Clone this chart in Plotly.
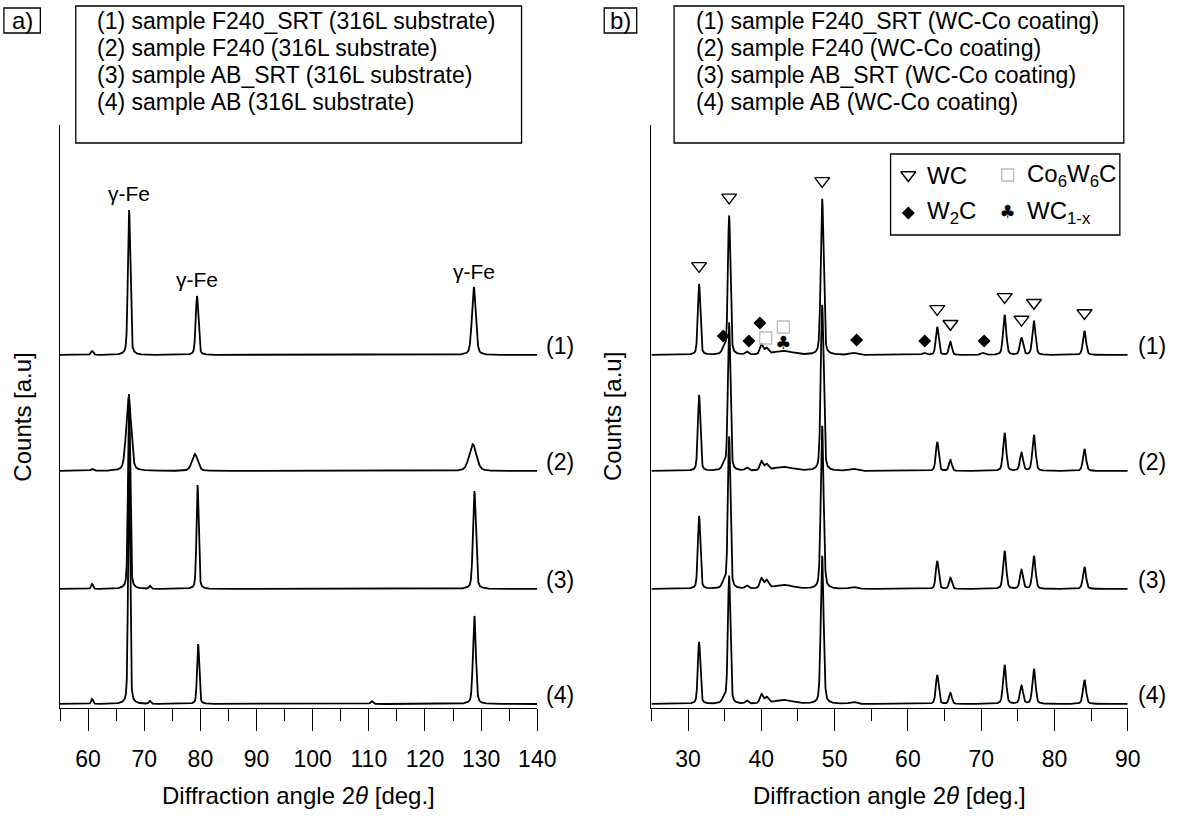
import numpy as np
import plotly.graph_objects as go

# ---------------- data ----------------
sample_tags = ["(1)", "(2)", "(3)", "(4)"]
legend_a = ["(1) sample F240_SRT (316L substrate)",
            "(2) sample F240 (316L substrate)",
            "(3) sample AB_SRT (316L substrate)",
            "(4) sample AB (316L substrate)"]
legend_b = ["(1) sample F240_SRT (WC-Co coating)",
            "(2) sample F240 (WC-Co coating)",
            "(3) sample AB_SRT (WC-Co coating)",
            "(4) sample AB (WC-Co coating)"]

# Panel a (316L substrate): peak position [deg], height [a.u.], FWHM [deg]
a1_pos = [60.7, 67.3, 79.4, 128.7]
a1_hgt = [4, 145, 59, 68]
a1_wid = [0.5, 0.5, 0.55, 0.8]
a2_pos = [60.7, 67.2, 79.0, 128.5]
a2_hgt = [2, 74, 17, 27]
a2_wid = [0.6, 1.0, 1.2, 1.5]
a3_pos = [60.7, 67.3, 71.0, 79.5, 128.8]
a3_hgt = [5, 195, 3, 104, 98]
a3_wid = [0.4, 0.45, 0.4, 0.45, 0.6]
a4_pos = [60.7, 67.3, 71.0, 79.6, 110.5, 128.8]
a4_hgt = [5, 250, 3, 60, 3, 88]
a4_wid = [0.4, 0.4, 0.4, 0.45, 0.5, 0.6]
gamma_fe_pos = [67.3, 79.4, 128.7]

# Panel b (WC-Co coating)
b1_pos = [31.5, 34.9, 35.6, 38.0, 40.0, 40.7, 43.0, 48.3, 52.5, 62.2, 64.0, 65.8, 70.2, 73.2, 75.5, 77.2, 84.1]
b1_hgt = [71, 6, 139, 3, 10, 6, 4, 156, 2, 2, 28, 13, 2, 40, 17, 34, 24]
b1_wid = [0.4, 0.6, 0.4, 0.5, 0.5, 0.6, 3.0, 0.45, 1.0, 0.6, 0.45, 0.45, 0.6, 0.5, 0.5, 0.5, 0.5]
b2_pos = [31.5, 34.9, 35.6, 38.0, 40.0, 40.7, 43.0, 48.3, 52.5, 64.0, 65.8, 73.2, 75.5, 77.2, 84.1]
b2_hgt = [76, 6, 148, 3, 9, 6, 4, 166, 2, 29, 11, 38, 18, 36, 22]
b2_wid = [0.4, 0.6, 0.4, 0.5, 0.5, 0.6, 3.0, 0.45, 1.0, 0.45, 0.45, 0.5, 0.5, 0.5, 0.5]
b3_pos = [31.5, 34.9, 35.6, 38.0, 40.0, 40.7, 43.0, 48.3, 52.5, 64.0, 65.8, 73.2, 75.5, 77.2, 84.1]
b3_hgt = [73, 6, 152, 3, 10, 8, 4, 163, 2, 28, 11, 38, 19, 33, 22]
b3_wid = [0.4, 0.6, 0.4, 0.5, 0.5, 0.6, 3.0, 0.45, 1.0, 0.45, 0.45, 0.5, 0.5, 0.5, 0.5]
b4_pos = [31.5, 34.9, 35.6, 38.0, 40.0, 40.7, 43.0, 48.3, 52.5, 64.0, 65.8, 73.2, 75.5, 77.2, 84.1]
b4_hgt = [62, 5, 128, 3, 9, 6, 4, 148, 2, 29, 11, 39, 18, 35, 24]
b4_wid = [0.4, 0.6, 0.4, 0.5, 0.5, 0.6, 3.0, 0.45, 1.0, 0.45, 0.45, 0.5, 0.5, 0.5, 0.5]

# phase identification marks (panel b, above sample 1)
wc_pos = [31.5, 35.6, 48.3, 64.0, 65.8, 73.2, 75.5, 77.2, 84.1]
w2c_pos = [34.8, 38.3, 39.8, 53.0, 62.3, 70.4]
w2c_lvl = [19, 14, 32, 15, 14, 14]
co6w6c_pos = [40.6, 43.0]
co6w6c_lvl = [17, 28]
wc1x_pos = [43.0]
wc1x_lvl = [11]

a_xticks = [60, 70, 80, 90, 100, 110, 120, 130, 140]
b_xticks = [30, 40, 50, 60, 70, 80, 90]

# ---------------- layout constants ----------------
W, H = 1192, 819
FONT = "Liberation Sans, Arial, sans-serif"
offsets = [353, 237, 119, 4]          # vertical stacking of patterns
AX_TOP, AX_BOT = 125, 708             # pixel rows of the y axis
A_L, A_R = 61, 546
B_L, B_R = 662, 1146


def pattern(x, pos, hgt, wid, eta=0.35):
    y = np.zeros_like(x)
    for p, h, w in zip(pos, hgt, wid):
        g = np.exp(-4 * np.log(2) * ((x - p) / w) ** 2)
        l = 1.0 / (1.0 + 4 * ((x - p) / w) ** 2)
        y += h * (eta * l + (1 - eta) * g)
    return y


xa = np.arange(55, 140.0001, 0.02)
xb = np.arange(25, 90.0001, 0.02)
a_sets = [(a1_pos, a1_hgt, a1_wid), (a2_pos, a2_hgt, a2_wid), (a3_pos, a3_hgt, a3_wid), (a4_pos, a4_hgt, a4_wid)]
b_sets = [(b1_pos, b1_hgt, b1_wid), (b2_pos, b2_hgt, b2_wid), (b3_pos, b3_hgt, b3_wid), (b4_pos, b4_hgt, b4_wid)]

LINE = dict(color="black", width=1.8)
fig = go.Figure()
a_curves, b_curves = [], []
for k, (p, h, w) in enumerate(a_sets):
    y = offsets[k] + pattern(xa, p, h, w)
    a_curves.append(y)
    fig.add_trace(go.Scatter(x=xa, y=y, mode="lines", line=LINE,
                             xaxis="x", yaxis="y", showlegend=False, hoverinfo="skip"))
for k, (p, h, w) in enumerate(b_sets):
    y = offsets[k] + pattern(xb, p, h, w)
    b_curves.append(y)
    fig.add_trace(go.Scatter(x=xb, y=y, mode="lines", line=LINE,
                             xaxis="x2", yaxis="y2", showlegend=False, hoverinfo="skip"))

TRI = dict(symbol="triangle-down-open", size=13, color="black", line=dict(width=1.4, color="black"))
DIA = dict(symbol="diamond", size=10, color="black")
SQR = dict(symbol="square-open", size=12, color="#bdbdbd", line=dict(width=1.3, color="#bdbdbd"))
CLUB_FONT = dict(size=18, color="black", family="DejaVu Sans")

# phase marks on panel b
wc_y = [np.interp(p, xb, b_curves[0]) + 18 for p in wc_pos]
fig.add_trace(go.Scatter(x=wc_pos, y=wc_y, mode="markers", xaxis="x2", yaxis="y2", marker=TRI,
                         showlegend=False, hoverinfo="skip"))
fig.add_trace(go.Scatter(x=w2c_pos, y=[offsets[0] + v for v in w2c_lvl], mode="markers", xaxis="x2", yaxis="y2",
                         marker=DIA, showlegend=False, hoverinfo="skip"))
fig.add_trace(go.Scatter(x=co6w6c_pos, y=[offsets[0] + v for v in co6w6c_lvl], mode="markers", xaxis="x2",
                         yaxis="y2", marker=SQR, showlegend=False, hoverinfo="skip"))
fig.add_trace(go.Scatter(x=wc1x_pos, y=[offsets[0] + v for v in wc1x_lvl], mode="text", xaxis="x2", yaxis="y2",
                         text=["\u2663"], textfont=CLUB_FONT, showlegend=False, hoverinfo="skip"))

# pixel overlay axis for the small phase key
KEY_ROW1, KEY_ROW2 = 175, 213
KEY_C1, KEY_C2 = 923, 1024
for mk, kx, ky in ((TRI, KEY_C1, KEY_ROW1), (DIA, KEY_C1, KEY_ROW2), (SQR, KEY_C2, KEY_ROW1)):
    fig.add_trace(go.Scatter(x=[kx], y=[ky], mode="markers", xaxis="x3", yaxis="y3", marker=mk,
                             showlegend=False, hoverinfo="skip"))
fig.add_trace(go.Scatter(x=[KEY_C2], y=[KEY_ROW2], mode="text", xaxis="x3", yaxis="y3", text=["\u2663"],
                         textfont=CLUB_FONT, showlegend=False, hoverinfo="skip"))

ydom = [(H - AX_BOT) / H, (H - AX_TOP) / H]
tickfont = dict(family=FONT, size=23, color="black")
common_x = dict(showline=True, linecolor="black", linewidth=1.4, ticks="outside", ticklen=22, tickwidth=1.4,
                tickcolor="black", showgrid=False, zeroline=False, tickfont=tickfont, ticklabelstandoff=8,
                minor=dict(ticks="outside", ticklen=12, tickwidth=1.4, tickcolor="black", dtick=5, showgrid=False))
common_y = dict(showline=True, linecolor="black", linewidth=1.4, ticks="", showticklabels=False,
                showgrid=False, zeroline=False, range=[0, AX_BOT - AX_TOP], domain=ydom)

annotations = []
shapes = []


def px(x):
    return x / W


def py(y):
    return 1 - y / H


def text_ann(x, y, t, size, xanchor="left", **kw):
    return dict(x=px(x), y=py(y), xref="paper", yref="paper", text=t, showarrow=False,
                xanchor=xanchor, yanchor="middle", font=dict(family=FONT, size=size, color="black"), **kw)


# trace labels
for k, tag in enumerate(sample_tags):
    ypix = AX_BOT - offsets[k] - 9
    for xl in (A_R + 7, B_R + 8):
        annotations.append(text_ann(xl, ypix, tag, 23))

# gamma-Fe labels
for p in gamma_fe_pos:
    top = np.interp(p, xa, a_curves[0])
    annotations.append(dict(x=p, y=top + 16, xref="x", yref="y", text="\u03b3-Fe", showarrow=False,
                            xanchor="center", yanchor="middle", font=dict(family=FONT, size=21, color="black")))

# legend boxes
for (bx0, bx1, lines) in ((77, 530, legend_a), (685, 1142, legend_b)):
    shapes.append(dict(type="rect", xref="paper", yref="paper", x0=px(bx0), x1=px(bx1), y0=py(6), y1=py(143),
                       line=dict(color="black", width=1.3)))
    for i, t in enumerate(lines):
        annotations.append(text_ann(bx0 + 20, 21 + 27 * i, t, 23))

# a) b) boxes
for (bx0, bx1, lab) in ((4, 41, "a)"), (614, 647, "b)")):
    shapes.append(dict(type="rect", xref="paper", yref="paper", x0=px(bx0), x1=px(bx1), y0=py(8), y1=py(33),
                       line=dict(color="black", width=1.3)))
    annotations.append(text_ann((bx0 + bx1) / 2, 20.5, lab, 24, xanchor="center"))

# phase key box
shapes.append(dict(type="rect", xref="paper", yref="paper", x0=px(905), x1=px(1138), y0=py(154), y1=py(235),
                   line=dict(color="black", width=1.3)))
key_texts = ["WC", "W<sub>2</sub>C", "Co<sub>6</sub>W<sub>6</sub>C", "WC<sub>1-x</sub>"]
key_pos = [(940, KEY_ROW1), (940, KEY_ROW2), (1042, KEY_ROW1), (1042, KEY_ROW2)]
for t, (kx, ky) in zip(key_texts, key_pos):
    annotations.append(text_ann(kx, ky, t, 24))

# axis titles
for cx in ((A_L + A_R) / 2, (B_L + B_R) / 2):
    annotations.append(text_ann(cx, 795, "Diffraction angle 2<i>\u03b8</i> [deg.]", 24, xanchor="center"))
for cx in (22, 622):
    annotations.append(text_ann(cx, 417, "Counts [a.u]", 24, xanchor="center", textangle=-90))

fig.update_layout(
    width=W, height=H, autosize=False, margin=dict(l=0, r=0, t=0, b=0),
    paper_bgcolor="white", plot_bgcolor="rgba(0,0,0,0)", showlegend=False,
    xaxis=dict(domain=[px(A_L), px(A_R)], range=[55, 140], tickvals=a_xticks, anchor="y", **common_x),
    yaxis=dict(anchor="x", **common_y),
    xaxis2=dict(domain=[px(B_L), px(B_R)], range=[25, 90], tickvals=b_xticks, anchor="y2", **common_x),
    yaxis2=dict(anchor="x2", **common_y),
    xaxis3=dict(domain=[0, 1], range=[0, W], visible=False, anchor="y3"),
    yaxis3=dict(domain=[0, 1], range=[H, 0], visible=False, anchor="x3"),
    annotations=annotations, shapes=shapes,
)
fig.layout.xaxis.minor.tick0 = 55
fig.layout.xaxis2.minor.tick0 = 25

fig.write_html("out.html")
